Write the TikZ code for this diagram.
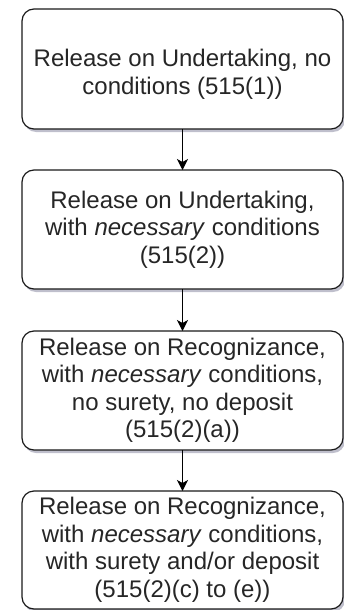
\documentclass[tikz,border=0pt]{standalone}
\usepackage{fontspec}
\setmainfont{Liberation Sans}
\usetikzlibrary{arrows.meta,shadows}
\definecolor{txt}{HTML}{262626}
\definecolor{edge}{HTML}{1A1A1A}
\begin{document}
\begin{tikzpicture}[x=1pt,y=1pt,
  box/.style={draw=edge, line width=1.2pt, rounded corners=12pt, fill=white,
    minimum width=321pt, inner sep=0pt, outer sep=0pt, align=center,
    text=txt, font=\fontsize{24}{27.5}\selectfont,
    drop shadow={shadow xshift=2pt, shadow yshift=-3pt, opacity=0.25, fill=black!80!blue}},
  conn/.style={draw=black, line width=1.2pt, -{Stealth[length=11pt,width=11pt,inset=3pt]}}]
\useasboundingbox (0,0) rectangle (344,-610);
\node[box, minimum height=120pt] (b1) at (182.5,-69)
  {\rule{0pt}{28pt}Release on Undertaking, no\\conditions (515(1))};
\node[box, minimum height=119pt] (b2) at (182.5,-229.5)
  {Release on Undertaking,\\with \textit{necessary} conditions\\(515(2))};
\node[box, minimum height=119pt] (b3) at (182.5,-390.5)
  {Release on Recognizance,\\with \textit{necessary} conditions,\\no surety, no deposit\\(515(2)(a))};
\node[box, minimum height=118pt] (b4) at (182.5,-550)
  {Release on Recognizance,\\with \textit{necessary} conditions,\\with surety and/or deposit\\(515(2)(c) to (e))};
\draw[conn] (b1) -- (b2);
\draw[conn] (b2) -- (b3);
\draw[conn] (b3) -- (b4);
\end{tikzpicture}
\end{document}
